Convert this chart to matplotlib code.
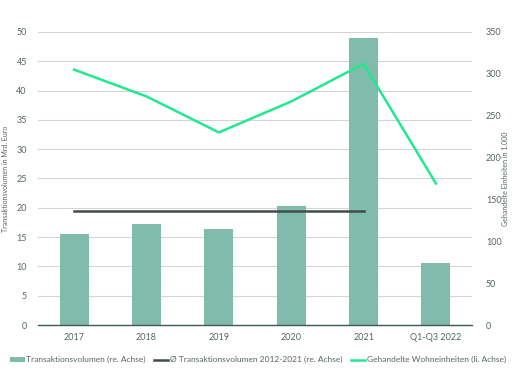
import matplotlib.pyplot as plt
import numpy as np
from matplotlib.patches import Patch
from matplotlib.lines import Line2D

kategorien = ['2017', '2018', '2019', '2020', '2021', 'Q1-Q3 2022']
transaktionsvolumen = [15.5, 17.2, 16.3, 20.3, 49.0, 10.6]   # Mrd. Euro
durchschnitt = 19.4                                           # 2012-2021
wohneinheiten = [305, 273, 230, 267, 312, 169]                # in 1.000

col_bar = '#80bbab'
col_avg = '#3f4d49'
col_line = '#22e890'
col_text = '#55665f'

plt.rcParams['font.family'] = ['Lato', 'DejaVu Sans']

fig = plt.figure(figsize=(5.16, 3.76), dpi=100)
ax = fig.add_axes([0.0736, 0.1356, 0.8414, 0.7794])
ax2 = ax.twinx()

x = np.arange(len(kategorien))
ax.bar(x, transaktionsvolumen, width=0.4, color=col_bar, zorder=2)
ax.plot([x[0], x[4]], [durchschnitt, durchschnitt], color=col_avg, lw=1.8, zorder=3)
ax2.plot(x, wohneinheiten, color=col_line, lw=1.8, zorder=4)

ax.set_xlim(-0.5, len(kategorien) - 0.5)
ax.set_ylim(0, 50)
ax.set_yticks(range(0, 51, 5))
ax2.set_ylim(0, 350)
ax2.set_yticks(range(0, 351, 50))
ax.set_xticks(x)
ax.set_xticklabels(kategorien)

ax.grid(axis='y', color='#d4d4d4', lw=0.8, zorder=0)
ax.set_axisbelow(True)
for a in (ax, ax2):
    for s in a.spines.values():
        s.set_visible(False)
    a.tick_params(length=0, labelsize=6.5, colors=col_text)
ax.spines['bottom'].set_visible(True)
ax.spines['bottom'].set_color('#3f5a52')
ax.spines['bottom'].set_linewidth(1)
ax.tick_params(axis='y', pad=8)
ax.tick_params(axis='x', pad=6)
ax2.tick_params(axis='y', pad=10)

ax.set_ylabel('Transaktionsvolumen in Mrd. Euro', fontsize=5, color=col_text)
ax2.set_ylabel('Gehandelte Einheiten in 1.000', fontsize=5, color=col_text)
ax.yaxis.set_label_coords(-0.066, 0.5)
ax2.yaxis.set_label_coords(1.069, 0.5)

handles = [
    Patch(facecolor=col_bar, edgecolor='none'),
    Line2D([0], [0], color=col_avg, lw=1.8),
    Line2D([0], [0], color=col_line, lw=1.8),
]
labels = ['Transaktionsvolumen (re. Achse)',
          'Ø Transaktionsvolumen 2012-2021 (re. Achse)',
          'Gehandelte Wohneinheiten (li. Achse)']
leg = fig.legend(handles, labels, loc='center', bbox_to_anchor=(0.5, 0.043), ncol=3,
                 frameon=False, fontsize=6.0, handlelength=1.7, handleheight=0.5,
                 handletextpad=0.2, columnspacing=1.0)
for t in leg.get_texts():
    t.set_color(col_text)

fig.savefig('out.png', dpi=100)
